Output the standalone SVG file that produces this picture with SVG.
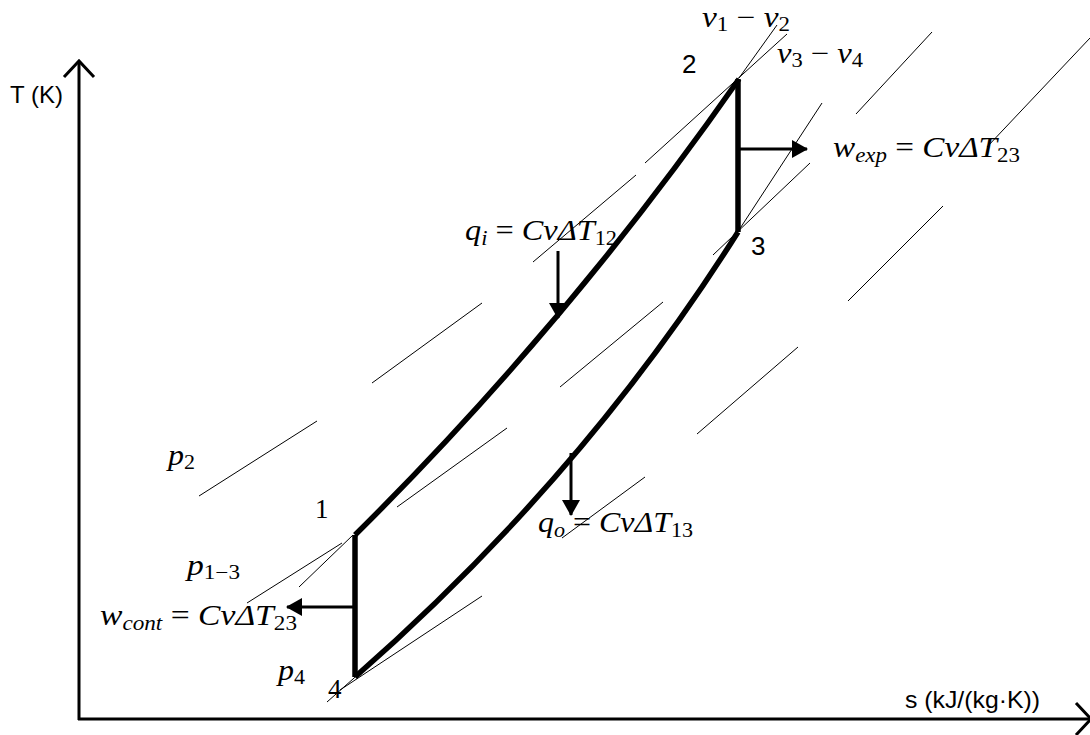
<svg xmlns="http://www.w3.org/2000/svg" width="1090" height="735" viewBox="0 0 1090 735">
<style>
.m{font-family:"Liberation Serif","DejaVu Serif",serif;font-style:italic;font-size:29px;fill:#000}
.s{font-style:normal;font-size:20px}
.si{font-style:italic;font-size:20px}
.o{font-style:normal}
.sans{font-family:"Liberation Sans","DejaVu Sans",sans-serif;font-size:24px;fill:#000}
.dig{font-family:"Liberation Sans","DejaVu Sans",sans-serif;font-size:26px;fill:#000}
.num{font-family:"Liberation Serif","DejaVu Serif",serif;font-size:27px;fill:#000}
.thin{stroke:#000;stroke-width:1;fill:none}
.proc{stroke:#000;stroke-width:5.5;fill:none;stroke-linejoin:miter}
.axis{stroke:#000;stroke-width:3;fill:none}
.arr{stroke:#000;stroke-width:3;fill:none;marker-end:url(#head)}
</style>
<defs>
<marker id="head" viewBox="0 0 16 18" refX="15" refY="9" markerWidth="16" markerHeight="18" markerUnits="userSpaceOnUse" orient="auto">
<path d="M0,0 L16,9 L0,18 z" fill="#000"/>
</marker>
</defs>
<rect width="1090" height="735" fill="#fff"/>
<g id="axes">
<line class="axis" x1="79" y1="720" x2="79" y2="62"/>
<polyline class="axis" points="64,77 79,61 94,77"/>
<line class="axis" x1="78" y1="719" x2="1089" y2="719"/>
<polyline class="axis" points="1076,703 1091,719 1076,735"/>
<text id="t-axis" class="sans" x="10" y="103">T (K)</text>
<text id="s-axis" class="sans" x="905" y="708" textLength="135" lengthAdjust="spacingAndGlyphs">s (kJ/(kg·K))</text>
</g>
<g id="isolines">
<line class="thin" x1="199" y1="496" x2="317" y2="421"/>
<line class="thin" x1="372" y1="383" x2="482" y2="303"/>
<line class="thin" x1="533" y1="262" x2="636" y2="175"/>
<line class="thin" x1="645" y1="163" x2="787" y2="34"/>
<line class="thin" x1="739" y1="78" x2="777" y2="25"/>
<line class="thin" x1="856" y1="114" x2="932" y2="32"/>
<line class="thin" x1="987" y1="147" x2="1090" y2="38"/>
<line class="thin" x1="713" y1="255" x2="810" y2="163"/>
<line class="thin" x1="739" y1="230" x2="822" y2="103"/>
<line class="thin" x1="848" y1="301" x2="943" y2="206"/>
<line class="thin" x1="560" y1="387" x2="663" y2="302"/>
<line class="thin" x1="697" y1="434" x2="798" y2="347"/>
<line class="thin" x1="562" y1="538" x2="645" y2="477"/>
<line class="thin" x1="397" y1="507" x2="507" y2="428"/>
<line class="thin" x1="247" y1="603" x2="342" y2="543"/>
<line class="thin" x1="299" y1="587" x2="353" y2="535"/>
<line class="thin" x1="327" y1="702" x2="362" y2="671"/>
<line class="thin" x1="340" y1="690" x2="482" y2="596"/>
</g>
<g id="connectors">
<path id="p12" class="proc" d="M355,535 Q568,324 739,79"/>
<path id="p23" class="proc" d="M738,79 L738,232"/>
<path id="p43" class="proc" d="M355,677 Q585,475 738,232"/>
<path id="p14" class="proc" d="M355,535 L355,677"/>
<line class="arr" x1="738" y1="149" x2="807" y2="149"/>
<line class="arr" x1="558" y1="251" x2="558" y2="318"/>
<line class="arr" x1="571" y1="453" x2="571" y2="515"/>
<line class="arr" x1="355" y1="607" x2="287" y2="607"/>
</g>
<g id="state-1"><text class="num" x="315" y="518">1</text></g>
<g id="state-2"><text class="dig" x="682" y="73">2</text></g>
<g id="state-3"><text class="dig" x="751" y="255">3</text></g>
<g id="state-4"><text class="num" x="328" y="698">4</text></g>
<g id="labels">
<text class="m" x="702" y="27" textLength="88" lengthAdjust="spacingAndGlyphs">v<tspan class="s" dy="4">1</tspan><tspan class="o" dy="-4"> − </tspan>v<tspan class="s" dy="4">2</tspan></text>
<text class="m" x="777" y="63" textLength="86" lengthAdjust="spacingAndGlyphs">v<tspan class="s" dy="4">3</tspan><tspan class="o" dy="-4"> − </tspan>v<tspan class="s" dy="4">4</tspan></text>
<text class="m" x="833" y="157" textLength="187" lengthAdjust="spacingAndGlyphs">w<tspan class="si" dy="5">exp</tspan><tspan class="o" dy="-5"> = </tspan>CvΔT<tspan class="s" dy="5">23</tspan></text>
<text class="m" x="465" y="240" textLength="152" lengthAdjust="spacingAndGlyphs">q<tspan class="si" dy="5">i</tspan><tspan class="o" dy="-5"> = </tspan>CvΔT<tspan class="s" dy="5">12</tspan></text>
<text class="m" x="538" y="532" textLength="155" lengthAdjust="spacingAndGlyphs">q<tspan class="si" dy="5">o</tspan><tspan class="o" dy="-5"> = </tspan>CvΔT<tspan class="s" dy="5">13</tspan></text>
<text class="m" x="168" y="465" textLength="27" lengthAdjust="spacingAndGlyphs">p<tspan class="s" dy="4">2</tspan></text>
<text class="m" x="187" y="575" textLength="53" lengthAdjust="spacingAndGlyphs">p<tspan class="s" dy="4">1−3</tspan></text>
<text class="m" x="100" y="625" textLength="197" lengthAdjust="spacingAndGlyphs">w<tspan class="si" dy="5">cont</tspan><tspan class="o" dy="-5"> = </tspan>CvΔT<tspan class="s" dy="5">23</tspan></text>
<text class="m" x="278" y="680" textLength="27" lengthAdjust="spacingAndGlyphs">p<tspan class="s" dy="4">4</tspan></text>
</g>
</svg>
